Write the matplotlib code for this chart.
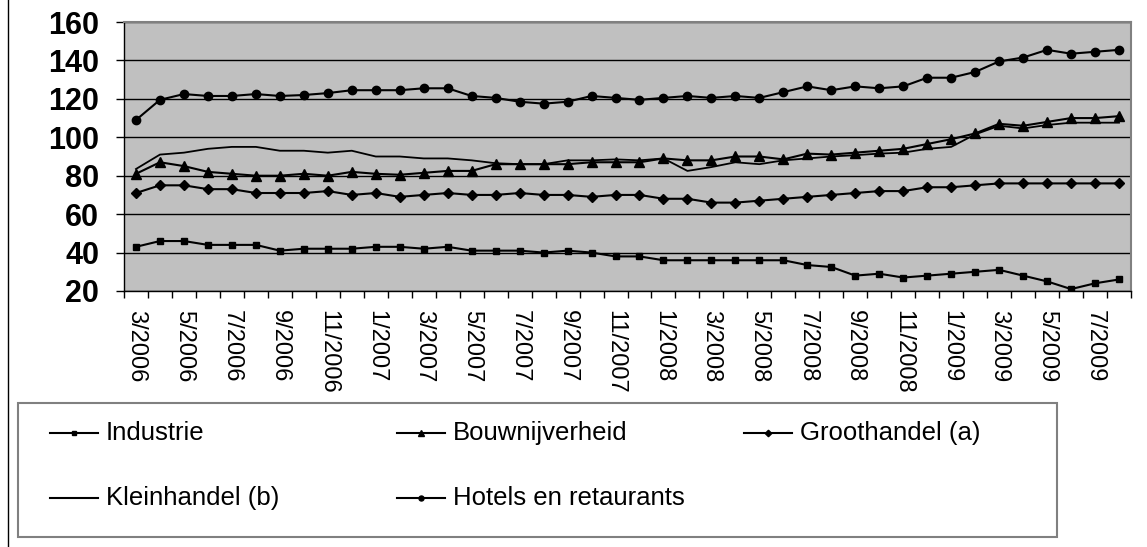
import matplotlib
matplotlib.use("Agg")
import matplotlib.pyplot as plt
from matplotlib.lines import Line2D
from matplotlib.patches import Rectangle
import numpy as np

plt.rcParams['font.family'] = ['Liberation Sans', 'DejaVu Sans']

# monthly index values, 3/2006 .. 8/2009
industrie = [43, 46, 46, 44, 44, 44, 41, 42, 42, 42, 43, 43,
             42, 43, 41, 41, 41, 40, 41, 40, 38, 38, 36, 36, 36, 36, 36, 36,
             33.5, 32.5, 28, 29, 27, 28, 29, 30, 31, 28, 25, 21, 24, 26]
bouw = [81, 87, 85, 82, 81, 80, 80, 81, 80, 82, 81, 80.5,
        81.5, 82.5, 82.5, 86, 86, 86, 86, 87, 87, 87, 89, 88, 88, 90, 90, 88.5,
        91.5, 91, 92, 93, 94, 96.5, 99, 102, 107, 106, 108, 110, 110, 111]
groot = [71, 75, 75, 73, 73, 71, 71, 71, 72, 70, 71, 69,
         70, 71, 70, 70, 71, 70, 70, 69, 70, 70, 68, 68, 66, 66, 67, 68,
         69, 70, 71, 72, 72, 74, 74, 75, 76, 76, 76, 76, 76, 76]
klein = [83.5, 91, 92, 94, 95, 95, 93, 93, 92, 93, 90, 90,
         89, 89, 88, 86.5, 86, 86, 88, 88, 88.5, 88, 89, 82.5, 84.5, 87, 86, 88,
         89, 90, 90.7, 91.5, 92, 94, 95, 101.5, 106, 104.6, 106.4, 107.6, 107.6, 107.6]
hotels = [109, 119.5, 122.5, 121.5, 121.5, 122.5, 121.5, 122, 123, 124.5, 124.5, 124.5,
          125.5, 125.5, 121.5, 120.5, 118.5, 117.5, 118.5, 121.5, 120.5, 119.5, 120.5,
          121.5, 120.5, 121.5, 120.5, 123.5,
          126.5, 124.5, 126.5, 125.5, 126.5, 131, 131, 134, 139.5, 141.5, 145.5, 143.5,
          144.5, 145.5]

tick_labels = ["3/2006", "5/2006", "7/2006", "9/2006", "11/2006",
               "1/2007", "3/2007", "5/2007", "7/2007", "9/2007", "11/2007",
               "1/2008", "3/2008", "5/2008", "7/2008", "9/2008", "11/2008",
               "1/2009", "3/2009", "5/2009", "7/2009"]

series = [
    ("Industrie", industrie, "s", 5),
    ("Bouwnijverheid", bouw, "^", 7),
    ("Groothandel (a)", groot, "D", 5.5),
    ("Kleinhandel (b)", klein, None, 0),
    ("Hotels en retaurants", hotels, "o", 6),
]

W, H = 1147, 547
fig = plt.figure(figsize=(W / 100, H / 100), dpi=100)

# plot area in pixels: left 124, right 1131, top 22, bottom 291
ax = fig.add_axes([124 / W, 1 - 291 / H, (1131 - 124) / W, (291 - 22) / H])
ax.set_facecolor("#C0C0C0")

x = np.arange(len(industrie))
for name, vals, mk, ms in series:
    if mk is None:
        ax.plot(x, vals, color="black", lw=1.3, zorder=3)
    else:
        ax.plot(x, vals, color="black", lw=1.5, marker=mk, markersize=ms, zorder=3)

ax.set_xlim(-0.5, len(industrie) - 0.5)
ax.set_ylim(20, 160)
ax.set_yticks(np.arange(20, 161, 20))
ax.set_yticklabels([str(v) for v in range(20, 161, 20)], fontsize=22, fontweight="bold")
ax.tick_params(axis="y", length=6, width=1, pad=12, direction="out")

ax.set_xticks(np.arange(0, len(industrie), 2))
ax.set_xticklabels(tick_labels, rotation=-90, fontsize=17, va="top", ha="center")
ax.tick_params(axis="x", which="major", length=0, pad=14)
ax.set_xticks(np.arange(-0.5, len(industrie), 1), minor=True)
ax.tick_params(axis="x", which="minor", length=5, width=1, direction="out")

ax.grid(axis="y", color="black", lw=1, zorder=1)
ax.set_axisbelow(True)
for s in ["top", "right"]:
    ax.spines[s].set_color("#808080")
    ax.spines[s].set_linewidth(1.5)
for s in ["left", "bottom"]:
    ax.spines[s].set_color("black")
    ax.spines[s].set_linewidth(1)


def fx(px):
    return px / W


def fy(py):
    return 1 - py / H


# left border of chart frame
fig.add_artist(Line2D([fx(8), fx(8)], [0, 1], color="black", lw=1))

# legend box
fig.add_artist(Rectangle((fx(18), fy(537)), fx(1057) - fx(18), fy(403) - fy(537),
                         transform=fig.transFigure, fill=False,
                         edgecolor="#808080", lw=1.5))

legend_pos = [(50, 433), (397, 433), (744, 433), (50, 498), (397, 498)]
for (name, vals, mk, ms), (lx, ly) in zip(series, legend_pos):
    fig.add_artist(Line2D([fx(lx), fx(lx + 48)], [fy(ly), fy(ly)], color="black", lw=1.5))
    if mk is not None:
        fig.add_artist(Line2D([fx(lx + 24)], [fy(ly)], color="black", marker=mk,
                              markersize=ms * 0.6, lw=0))
    fig.text(fx(lx + 56), fy(ly), name, fontsize=18.5, va="center", ha="left")

fig.savefig("out.png", dpi=100)
